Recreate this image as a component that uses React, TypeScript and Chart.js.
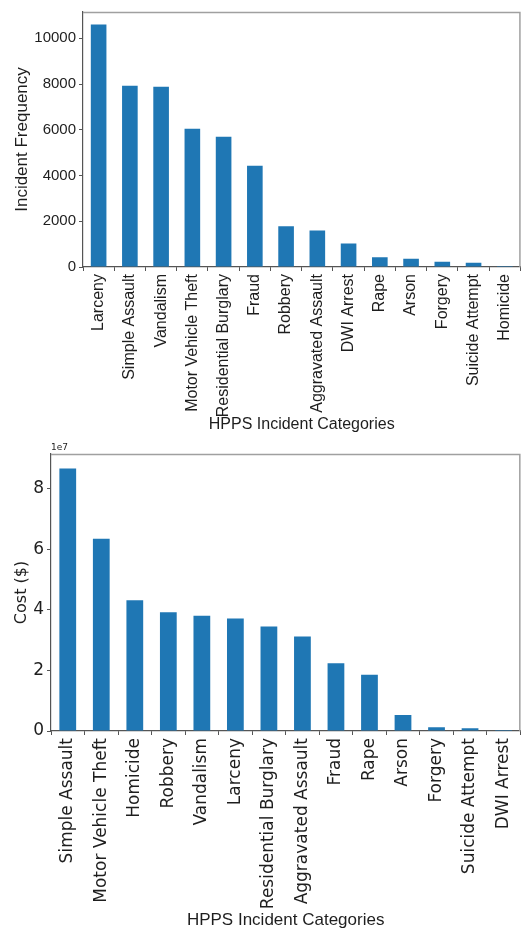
import React, { useEffect, useRef } from "react";
import { Chart, registerables } from "chart.js";

Chart.register(...registerables);

const freqCategories = [
  "Larceny", "Simple Assault", "Vandalism", "Motor Vehicle Theft", "Residential Burglary",
  "Fraud", "Robbery", "Aggravated Assault", "DWI Arrest", "Rape", "Arson", "Forgery",
  "Suicide Attempt", "Homicide",
];
const freqValues = [10600, 7930, 7880, 6050, 5690, 4430, 1780, 1600, 1030, 430, 360, 230, 190, 40];
const freqTicks = [0, 2000, 4000, 6000, 8000, 10000];

const costCategories = [
  "Simple Assault", "Motor Vehicle Theft", "Homicide", "Robbery", "Vandalism", "Larceny",
  "Residential Burglary", "Aggravated Assault", "Fraud", "Rape", "Arson", "Forgery",
  "Suicide Attempt", "DWI Arrest",
];
const costValues = [86700000, 63500000, 43200000, 39200000, 38100000, 37200000, 34500000, 31200000, 22400000, 18600000, 5300000, 1200000, 900000, 300000];
const costTicks = [0, 20000000, 40000000, 60000000, 80000000];

const xTitle = "HPPS Incident Categories";
const freqYTitle = "Incident Frequency";
const costYTitle = "Cost ($)";
const costExponent = "1e7";

const BAR = "#1f77b4";
const TEXT = "#1e1e1e";

const boxPlugin = {
  id: "boxPlugin",
  afterDraw(chart: any) {
    const { ctx, chartArea } = chart;
    ctx.save();
    ctx.strokeStyle = "#a0a0a0";
    ctx.lineWidth = 1.5;
    ctx.beginPath();
    ctx.moveTo(chartArea.left, chartArea.top + 0.5);
    ctx.lineTo(chartArea.right - 0.5, chartArea.top + 0.5);
    ctx.lineTo(chartArea.right - 0.5, chartArea.bottom);
    ctx.stroke();
    ctx.restore();
  },
};

function makeOptions(cfg: any) {
  return {
    responsive: false,
    animation: false,
    layout: { padding: cfg.padding },
    plugins: {
      legend: { display: false },
      tooltip: { enabled: false },
    },
    scales: {
      x: {
        offset: true,
        grid: { display: true, drawOnChartArea: false, drawTicks: true, tickLength: 4, color: "#555" },
        border: { display: true, color: "#555", width: 1.2 },
        ticks: {
          autoSkip: false,
          minRotation: 90,
          maxRotation: 90,
          padding: 3,
          color: TEXT,
          font: { family: cfg.tickFamily, size: cfg.xTickSize },
        },
        title: {
          display: true,
          text: xTitle,
          color: TEXT,
          font: { family: "Liberation Sans", size: cfg.xTitleSize },
          padding: { top: 0, bottom: cfg.xTitlePadBottom },
        },
        afterFit(scale: any) {
          scale.height = cfg.xAxisHeight;
        },
      },
      y: {
        min: 0,
        max: cfg.yMax,
        grid: { display: true, drawOnChartArea: false, drawTicks: true, tickLength: 4, color: "#555" },
        border: { display: true, color: "#555", width: 1.2 },
        afterBuildTicks(scale: any) {
          scale.ticks = cfg.tickValues.map((v: number) => ({ value: v }));
        },
        ticks: {
          padding: 3,
          color: TEXT,
          font: { family: cfg.tickFamily, size: cfg.yTickSize },
          callback: cfg.yCallback,
        },
        title: {
          display: true,
          text: cfg.yTitle,
          color: TEXT,
          font: { family: cfg.yTitleFamily, size: cfg.yTitleSize },
          padding: { top: cfg.yTitlePadTop, bottom: 0 },
        },
        afterFit(scale: any) {
          scale.width = cfg.yAxisWidth;
        },
      },
    },
  };
}

function BarChart(props: any) {
  const ref = useRef<HTMLCanvasElement | null>(null);
  useEffect(() => {
    if (!ref.current) return;
    const plugins: any[] = [boxPlugin];
    if (props.exponent) {
      plugins.push({
        id: "expPlugin",
        afterDraw(chart: any) {
          const { ctx, chartArea } = chart;
          ctx.save();
          ctx.fillStyle = TEXT;
          ctx.font = "9px 'DejaVu Sans'";
          ctx.textAlign = "left";
          ctx.textBaseline = "bottom";
          ctx.fillText(props.exponent, chartArea.left, chartArea.top - 2);
          ctx.restore();
        },
      });
    }
    const chart = new Chart(ref.current, {
      type: "bar",
      data: {
        labels: props.labels,
        datasets: [
          {
            data: props.values,
            backgroundColor: BAR,
            borderWidth: 0,
            categoryPercentage: 1,
            barPercentage: 0.5,
          },
        ],
      },
      options: makeOptions(props.cfg) as any,
      plugins,
    });
    return () => chart.destroy();
  }, []);
  return (
    <canvas
      ref={ref}
      width={props.width}
      height={props.height}
      style={{ display: "block", width: props.width, height: props.height }}
    />
  );
}

export default function App() {
  const topCfg = {
    padding: { top: 7, right: 0, bottom: 0, left: 0 },
    tickFamily: "Liberation Sans",
    xTickSize: 16,
    yTickSize: 15,
    xTitleSize: 16,
    xTitlePadBottom: 6,
    xAxisHeight: 173,
    yMax: 11150,
    tickValues: freqTicks,
    yCallback: (v: any) => String(v),
    yTitle: freqYTitle,
    yTitleFamily: "Liberation Sans",
    yTitleSize: 17,
    yTitlePadTop: 12,
    yAxisWidth: 83,
  };
  const botCfg = {
    padding: { top: 14, right: 1, bottom: 0, left: 0 },
    tickFamily: "DejaVu Sans",
    xTickSize: 17,
    yTickSize: 17,
    xTitleSize: 17,
    xTitlePadBottom: 0,
    xAxisHeight: 200,
    yMax: 91500000,
    tickValues: costTicks,
    yCallback: (v: any) => String(Math.round(v / 1e7)),
    yTitle: costYTitle,
    yTitleFamily: "DejaVu Sans",
    yTitleSize: 16,
    yTitlePadTop: 12,
    yAxisWidth: 51,
  };
  return (
    <div style={{ position: "absolute", left: 0, top: 0, width: 527, height: 931, background: "#fff" }}>
      <BarChart labels={freqCategories} values={freqValues} cfg={topCfg} width={527} height={440} />
      <BarChart labels={costCategories} values={costValues} cfg={botCfg} width={527} height={491} exponent={costExponent} />
    </div>
  );
}
